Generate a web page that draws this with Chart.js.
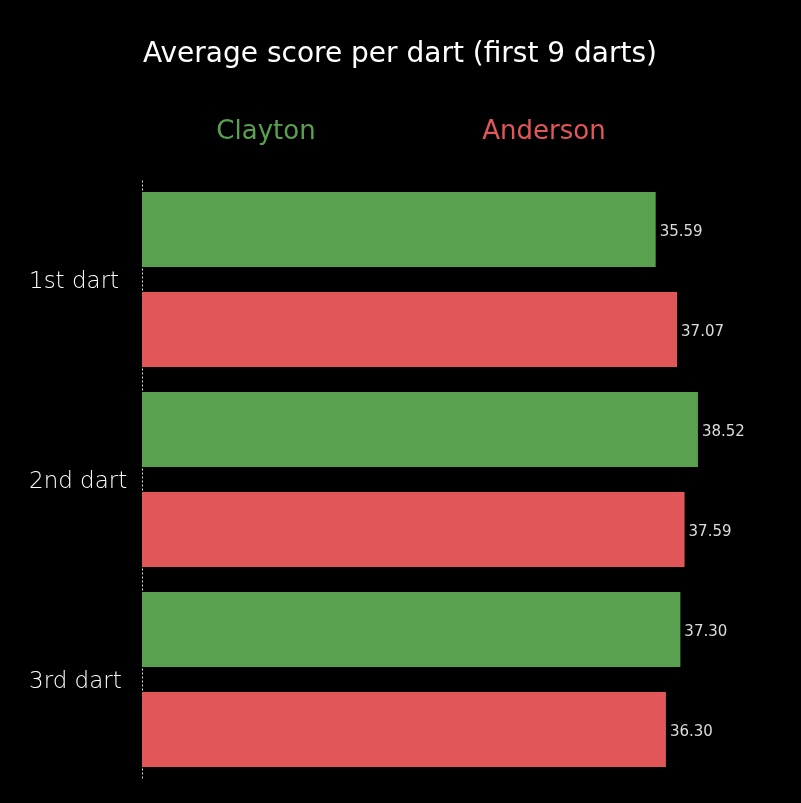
<!DOCTYPE html>
<html>
<head>
<meta charset="utf-8">
<script src="https://cdn.jsdelivr.net/npm/chart.js@4"></script>
<style>
  html, body { margin: 0; padding: 0; background: #000; }
  #wrap { width: 801px; height: 803px; }
</style>
</head>
<body>
<div id="wrap"><canvas id="c"></canvas></div>
<script>
const categories = ['1st dart', '2nd dart', '3rd dart'];
const clayton = [35.59, 38.52, 37.30];
const anderson = [37.07, 37.59, 36.30];
const seriesNames = ['Clayton', 'Anderson'];
const seriesColors = ['#59a14f', '#e15759'];
const chartTitle = 'Average score per dart (first 9 darts)';

const FONT = '"DejaVu Sans", sans-serif';

// title + the two player names above the bars
const headerPlugin = {
  id: 'header',
  afterDraw(chart) {
    const ctx = chart.ctx;
    ctx.save();
    ctx.textAlign = 'center';
    ctx.textBaseline = 'alphabetic';
    ctx.fillStyle = '#ffffff';
    ctx.font = '28px ' + FONT;
    ctx.fillText(chartTitle, 400, 62);
    ctx.font = '26px ' + FONT;
    ctx.fillStyle = seriesColors[0];
    ctx.fillText(seriesNames[0], 266, 139);
    ctx.fillStyle = seriesColors[1];
    ctx.fillText(seriesNames[1], 544, 139);
    ctx.restore();
  }
};

// dotted axis line at zero (border.dash only affects grid lines)
const dottedAxis = {
  id: 'dottedAxis',
  beforeDatasetsDraw(chart) {
    const { ctx, chartArea } = chart;
    const x = Math.round(chart.scales.x.getPixelForValue(0)) + 0.5;
    ctx.save();
    ctx.strokeStyle = '#dddddd';
    ctx.lineWidth = 1;
    ctx.setLineDash([2, 2]);
    ctx.beginPath();
    ctx.moveTo(x, chartArea.top + 1);
    ctx.lineTo(x, chartArea.bottom);
    ctx.stroke();
    ctx.restore();
  }
};

// value labels at end of bars
const valueLabels = {
  id: 'valueLabels',
  afterDatasetsDraw(chart) {
    const ctx = chart.ctx;
    ctx.save();
    ctx.font = '15px ' + FONT;
    ctx.fillStyle = '#dcdcdc';
    ctx.textAlign = 'left';
    ctx.textBaseline = 'alphabetic';
    chart.data.datasets.forEach((ds, i) => {
      chart.getDatasetMeta(i).data.forEach((bar, j) => {
        ctx.fillText(ds.data[j].toFixed(2), bar.x + 4, bar.y + 6);
      });
    });
    ctx.restore();
  }
};

new Chart(document.getElementById('c'), {
  type: 'bar',
  data: {
    labels: categories,
    datasets: [
      { label: seriesNames[0], data: clayton, backgroundColor: seriesColors[0] },
      { label: seriesNames[1], data: anderson, backgroundColor: seriesColors[1] }
    ]
  },
  options: {
    indexAxis: 'y',
    responsive: true,
    maintainAspectRatio: false,
    animation: false,
    layout: { padding: { top: 179.5, bottom: 23.5, left: 29, right: 9.5 } },
    datasets: { bar: { barPercentage: 0.75, categoryPercentage: 1 } },
    scales: {
      x: {
        display: false,
        min: 0,
        max: 45
      },
      y: {
        grid: { display: false, drawTicks: false },
        border: { display: false },
        ticks: {
          color: '#ffffff',
          crossAlign: 'far',
          padding: 0,
          labelOffset: 3,
          font: { family: FONT, size: 23, weight: 200 }
        },
        afterFit(scale) { scale.width = 113; }
      }
    },
    plugins: {
      legend: { display: false },
      tooltip: { enabled: false }
    }
  },
  plugins: [headerPlugin, dottedAxis, valueLabels]
});
</script>
</body>
</html>
